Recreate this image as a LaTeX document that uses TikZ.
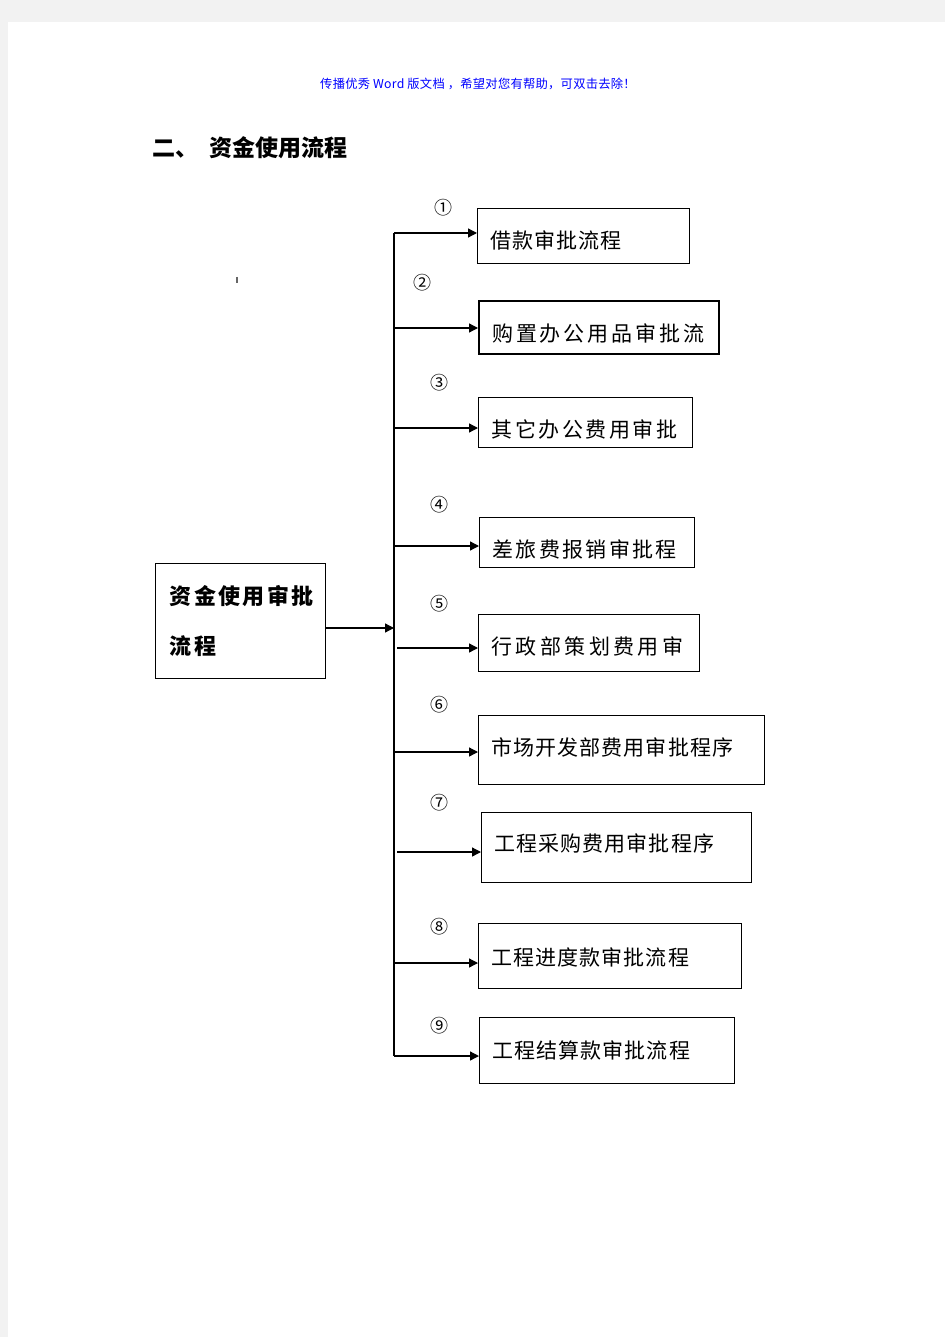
\documentclass[tikz,border=0pt]{standalone}
\usepackage{fontspec}
\newfontfamily\cjk{Noto Sans CJK SC}
\usetikzlibrary{arrows.meta}
\definecolor{pagegray}{HTML}{F2F2F2}
\definecolor{hdrblue}{HTML}{0000FF}
\newcommand{\lowt}[2]{\raisebox{-#1pt}[15pt][5pt]{#2}}
\begin{document}
\begin{tikzpicture}[x=1pt,y=-1pt,
  box/.style={draw, line width=1.3pt, anchor=north west, inner xsep=13pt, inner ysep=0pt, align=left,
    font=\cjk\fontsize{21}{24}\selectfont},
  arr/.style={line width=1.3pt, -{Triangle[length=9pt,width=9pt]}},
  num/.style={font=\cjk\fontsize{18}{18}\selectfont, inner sep=0pt}]
\useasboundingbox (0,0) rectangle (945,1337);
\fill[pagegray] (0,0) rectangle (945,1337);
\fill[white] (8,22) rectangle (945,1337);

% header and title
\node[font=\cjk\fontsize{12.3}{12.3}\selectfont, text=hdrblue, inner sep=0pt] (hdr) at (478,84)
  {\addfontfeature{LetterSpace=2}传播优秀 Word 版文档 ，希望对您有帮助，可双击去除！};
\node[font=\cjk\bfseries\fontsize{23}{23}\selectfont, anchor=west, inner sep=0pt] (title) at (152,148)
  {二、\hspace{11pt}资金使用流程};

% stray tick mark
\draw[gray!80!black, line width=2pt] (236.5,277) -- (236.5,283);

% main box
\node[draw, line width=1.3pt, anchor=north west, minimum width=170pt, minimum height=115pt,
  text width=142pt, inner xsep=14pt, align=left,
  font=\cjk\bfseries\fontsize{22}{49.5}\selectfont] (main) at (155,563)
  {\addfontfeature{LetterSpace=11}资金使用审批\\流程};

% target boxes
\node[box, minimum width=212pt, minimum height=55pt, text width=186pt] (b1) at (477,208)
  {\lowt{7}{\addfontfeature{LetterSpace=5}借款审批流程}};
\node[box, line width=2.2pt, minimum width=240pt, minimum height=53pt, text width=214pt] (b2) at (478,300)
  {\lowt{9}{\addfontfeature{LetterSpace=14}购置办公用品审批流}};
\node[box, minimum width=214pt, minimum height=50pt, text width=188pt] (b3) at (478,397)
  {\lowt{9.5}{\addfontfeature{LetterSpace=12}其它办公费用审批}};
\node[box, minimum width=215pt, minimum height=50pt, text width=189pt] (b4) at (479,517)
  {\lowt{10}{\addfontfeature{LetterSpace=11}差旅费报销审批程}};
\node[box, minimum width=221pt, minimum height=57pt, text width=195pt] (b5) at (478,614)
  {\lowt{6}{\addfontfeature{LetterSpace=16}行政部策划费用审}};
\node[box, minimum width=286pt, minimum height=69pt, text width=260pt] (b6) at (478,715)
  {\lowt{0.5}{\addfontfeature{LetterSpace=5}市场开发部费用审批程序}};
\node[box, minimum width=270pt, minimum height=70pt, text width=244pt] (b7) at (481,812)
  {\lowt{-1.3}{\addfontfeature{LetterSpace=5}工程采购费用审批程序}};
\node[box, minimum width=263pt, minimum height=65pt, text width=237pt] (b8) at (478,923)
  {\lowt{4}{\addfontfeature{LetterSpace=5}工程进度款审批流程}};
\node[box, minimum width=255pt, minimum height=66pt, text width=229pt] (b9) at (479,1017)
  {\lowt{2.4}{\addfontfeature{LetterSpace=5}工程结算款审批流程}};

% circled numbers
\node[num] (n1) at (443,208) {①};
\node[num] (n2) at (422,283) {②};
\node[num] (n3) at (439,383) {③};
\node[num] (n4) at (439,505) {④};
\node[num] (n5) at (439,604) {⑤};
\node[num] (n6) at (439,705) {⑥};
\node[num] (n7) at (439,803) {⑦};
\node[num] (n8) at (439,927) {⑧};
\node[num] (n9) at (439,1026) {⑨};

% spine coordinates
\coordinate (s1) at (394,233);
\coordinate (s2) at (394,328);
\coordinate (s3) at (394,428);
\coordinate (s4) at (394,546);
\coordinate (s5) at (397,648);
\coordinate (s6) at (394,752);
\coordinate (s7) at (397,852);
\coordinate (s8) at (394,963);
\coordinate (s9) at (394,1056);
\coordinate (sm) at (394,628);

\draw[line width=1.3pt] (s1) -- (s9);
\draw[arr] (main.east |- sm) -- (sm);
\draw[arr] (s1) -- (s1 -| b1.west);
\draw[arr] (s2) -- (s2 -| b2.west);
\draw[arr] (s3) -- (s3 -| b3.west);
\draw[arr] (s4) -- (s4 -| b4.west);
\draw[arr] (s5) -- (s5 -| b5.west);
\draw[arr] (s6) -- (s6 -| b6.west);
\draw[arr] (s7) -- (s7 -| b7.west);
\draw[arr] (s8) -- (s8 -| b8.west);
\draw[arr] (s9) -- (s9 -| b9.west);
\end{tikzpicture}
\end{document}
